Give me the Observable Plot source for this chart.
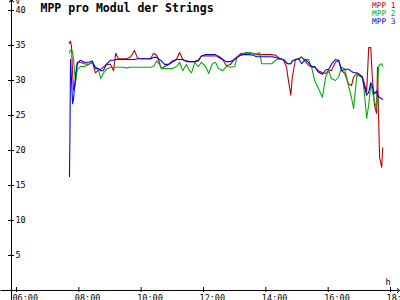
<!DOCTYPE html>
<html>
<head>
<meta charset="utf-8">
<script src="https://cdn.jsdelivr.net/npm/d3@7"></script>
<script src="https://cdn.jsdelivr.net/npm/@observablehq/plot@0.6"></script>
<style>
  html, body { margin: 0; padding: 0; background: #fff; }
  svg { display: block; }
</style>
</head>
<body>
<div id="chart"></div>
<script>
const title = "MPP pro Modul der Strings";
const seriesNames = ["MPP 1", "MPP 2", "MPP 3"];
const seriesColors = ["#c00000", "#00b000", "#0000ff"];
const yTicks = [5, 10, 15, 20, 25, 30, 35, 40];
const xTicks = [6, 8, 10, 12, 14, 16, 18];
const yUnit = "V";
const xUnit = "h";

const times = [
  "07:42","07:43","07:44","07:46","07:48","07:50","07:52","07:54","07:57","08:03",
  "08:11","08:19","08:26","08:32","08:38","08:42","08:47","08:53","09:01","09:07",
  "09:11","09:16","09:24","09:32","09:40","09:47","09:53","09:59","10:08","10:18",
  "10:24","10:30","10:35","10:39","10:45","10:53","11:00","11:08","11:14","11:20",
  "11:27","11:33","11:37","11:43","11:50","11:56","12:04","12:10","12:17","12:23",
  "12:29","12:37","12:44","12:52","13:00","13:05","13:13","13:21","13:29","13:36",
  "13:42","13:48","13:52","14:01","14:11","14:19","14:26","14:34","14:40","14:42",
  "14:48","14:51","14:57","15:03","15:09","15:16","15:22","15:28","15:34","15:41",
  "15:49","15:55","16:01","16:06","16:14","16:20","16:26","16:32","16:39","16:45",
  "16:49","16:55","17:00","17:06","17:10","17:14","17:18","17:22","17:25","17:29",
  "17:33","17:35","17:37","17:39","17:43","17:45"
];
const mpp1 = [
  35.3,35.6,35.6,34.8,31.0,28.6,29.0,30.0,32.6,32.6,
  32.4,32.3,32.6,31.1,31.5,31.6,31.9,32.3,32.3,31.4,
  33.9,33.1,33.1,33.1,33.4,34.3,33.2,33.1,33.1,33.1,
  33.9,33.6,32.6,31.7,32.0,32.3,32.6,33.0,34.0,33.0,
  32.7,32.7,32.7,32.7,32.9,33.5,33.5,33.5,33.5,33.5,
  33.5,33.0,32.1,32.3,33.1,33.4,33.9,33.9,33.9,33.9,
  33.7,33.7,33.7,33.7,33.7,33.6,33.2,32.9,31.9,30.7,
  27.9,30.5,33.0,33.1,33.4,32.7,32.2,31.9,31.9,31.4,
  31.1,31.0,31.5,31.4,32.6,32.9,31.4,31.0,29.5,29.3,
  30.5,31.0,30.7,30.4,29.5,28.3,34.7,34.7,30.4,26.5,
  25.3,31.9,24.7,19.0,17.6,20.4
];
const mpp2 = [
  33.9,34.2,34.4,34.4,34.0,33.0,31.0,30.0,31.5,32.0,
  32.0,32.3,32.6,32.0,31.6,30.3,31.0,31.6,31.9,31.9,
  31.9,31.9,31.9,31.8,31.9,31.9,31.9,31.9,31.9,31.9,
  32.0,32.8,32.3,31.7,31.7,31.7,31.7,32.0,32.6,31.4,
  32.3,31.4,31.1,32.6,32.0,32.6,32.0,31.0,32.4,32.6,
  31.7,31.4,32.0,31.9,32.0,33.4,33.6,34.0,34.0,33.8,
  33.8,34.0,32.4,32.4,32.4,32.9,33.1,33.0,32.6,32.4,
  32.4,32.8,33.0,33.0,33.3,33.0,33.0,31.9,30.0,28.9,
  27.6,30.5,31.4,30.3,30.0,30.5,31.9,31.6,29.3,27.5,
  26.0,30.7,30.7,30.6,28.0,24.6,26.5,29.5,28.5,27.0,
  26.1,29.0,31.9,32.3,32.4,32.0
];
const mpp3 = [
  16.3,23.0,33.0,30.0,26.7,27.5,29.3,31.0,32.4,32.9,
  32.6,32.6,32.8,31.7,31.7,31.4,31.4,32.3,32.9,32.9,
  33.0,33.0,33.0,33.0,33.0,33.0,33.1,33.1,33.1,33.1,
  33.3,33.3,33.0,32.8,32.3,32.3,32.8,33.0,33.0,33.0,
  32.8,32.7,32.7,32.7,32.8,33.5,33.7,33.7,33.7,33.7,
  33.3,33.0,32.7,32.7,33.0,33.3,33.7,33.7,33.7,33.6,
  33.4,33.4,33.4,33.4,33.4,33.3,33.1,33.0,32.5,32.4,
  32.4,32.8,33.0,33.1,32.4,33.0,32.6,32.0,32.0,31.2,
  30.9,31.5,31.6,32.3,33.0,32.9,31.4,31.6,31.6,31.3,
  31.1,31.1,30.9,30.4,29.0,27.9,28.3,29.7,29.2,28.1,
  28.5,28.0,27.6,27.6,27.4,27.3
];

const toHours = s => { const [h, m] = s.split(":").map(Number); return h + m / 60; };
const seriesValues = [mpp1, mpp2, mpp3];
const rows = seriesNames.flatMap((name, k) =>
  times.map((t, i) => ({ t: toHours(t), v: seriesValues[k][i], s: name }))
);

// layout (scale domains chosen so the whole 400x300 svg is the frame)
const xDom = [5.487, 18.32];
const yDom = [-1.43, 41.43];
const axisX0 = 5.84;      // where the vertical axis sits
const axisXEnd = 18.255;  // arrow tip of horizontal axis
const pxX = (xDom[1] - xDom[0]) / 400;
const pxY = (yDom[1] - yDom[0]) / 300;
const font = "DejaVu Sans Mono, Liberation Mono, monospace";

const legendMarks = seriesNames.map((name, i) =>
  Plot.text([name], { frameAnchor: "top-right", dx: -5, dy: 1.5 + 8 * i, text: d => d,
    fill: seriesColors[i], textAnchor: "end", lineAnchor: "top", fontSize: 7.8 })
);

const chart = Plot.plot({
  width: 400,
  height: 300,
  margin: 0,
  style: { fontFamily: font, background: "#fff", color: "#000" },
  x: { domain: xDom, axis: null },
  y: { domain: yDom, axis: null },
  color: { domain: seriesNames, range: seriesColors },
  marks: [
    Plot.line(rows, { x: "t", y: "v", z: "s", stroke: "s", strokeWidth: 1.1, curve: "linear" }),
    // axes
    Plot.link([0], { x1: axisX0, x2: axisX0, y1: yDom[0], y2: yDom[1] - 0.05, stroke: "#000", markerEnd: "arrow" }),
    Plot.link([0], { x1: xDom[0], x2: axisXEnd, y1: 0, y2: 0, stroke: "#000", markerEnd: "arrow" }),
    Plot.ruleY(yTicks, { y: d => d, x1: axisX0 - 3 * pxX, x2: axisX0 + 3 * pxX, stroke: "#000" }),
    Plot.text(yTicks, { x: axisX0, y: d => d, text: d => String(d), dx: 4, textAnchor: "start", lineAnchor: "middle", fontSize: 8.5, fill: "#000" }),
    Plot.ruleX(xTicks, { x: d => d, y1: -2 * pxY, y2: 3 * pxY, stroke: "#000" }),
    Plot.text(xTicks, { x: d => d, y: 0, text: d => String(d).padStart(2, "0") + ":00", dx: -4, dy: 4, textAnchor: "start", lineAnchor: "top", fontSize: 8.5, fill: "#000" }),
    Plot.text([yUnit], { frameAnchor: "top-left", dx: 15, dy: -2, textAnchor: "start", lineAnchor: "top", fontSize: 7.5, fill: "#000" }),
    Plot.text([xUnit], { frameAnchor: "top-left", dx: 385, dy: 278, textAnchor: "start", lineAnchor: "top", fontSize: 8.5, fill: "#000" }),
    // title
    Plot.text([title], { frameAnchor: "top-left", dx: 40, dy: 3, textAnchor: "start", lineAnchor: "top", fontSize: 11.5, fontWeight: "bold", fill: "#000" }),
    ...legendMarks
  ]
});
document.getElementById("chart").appendChild(chart);
</script>
</body>
</html>
